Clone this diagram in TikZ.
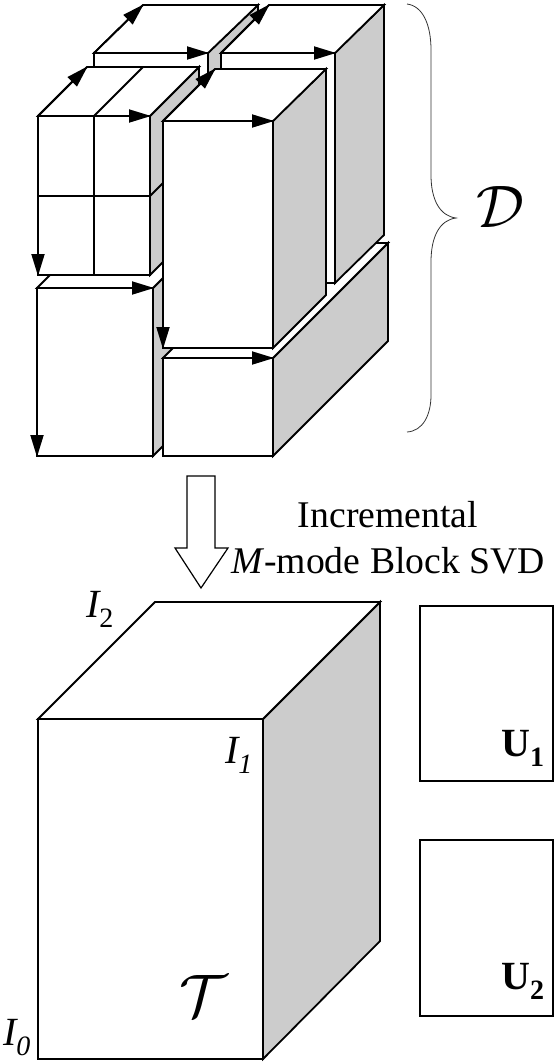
\documentclass[tikz,border=0pt]{standalone}
\usepackage{fontspec}
\setmainfont{Liberation Serif}
\usetikzlibrary{arrows.meta}
\definecolor{sidegray}{HTML}{CCCCCC}
\tikzstyle{face} = [draw=black, fill=white, line width=1.8pt, line join=miter]
\tikzstyle{side} = [draw=black, fill=sidegray, line width=1.8pt, line join=miter]
\tikzstyle{arrow} = [-{Triangle[length=22pt, width=13pt]}, line width=1.8pt, shorten >=-1pt]
\tikzstyle{brace} = [draw=black!80, line width=0.8pt]
\tikzstyle{hollow} = [draw=black, fill=white, line width=1.2pt, line join=miter]
\tikzstyle{matrixbox} = [face, outer sep=0pt, anchor=north west, minimum width=133pt]
\tikzstyle{caption} = [inner sep=0pt, align=center, font=\fontsize{37.7}{46}\selectfont]
\tikzstyle{modelabel} = [inner sep=0pt, font=\fontsize{40}{40}\selectfont\itshape]
\tikzstyle{basislabel} = [inner sep=0pt, font=\fontsize{40}{40}\selectfont\bfseries]
\tikzstyle{tensorlabel} = [inner sep=0pt]
\begin{document}
\begin{tikzpicture}[x=1pt, y=-1pt]
    \useasboundingbox (0,0) rectangle (557,1063);

    % lower left block
    \draw[side] (153,288) -- (201,240) -- (201,408) -- (153,456) -- cycle;
    \draw[face] (37,288) -- (85,240) -- (201,240) -- (153,288) -- cycle;
    \draw[face] (37,288) rectangle (153,456);
    \draw[arrow] (37,288) -- (153,288);
    \draw[arrow] (37,288) -- (37,456);

    % lower right block
    \draw[side] (273,358) -- (388,243) -- (388,341) -- (273,456) -- cycle;
    \draw[face] (163,358) -- (278,243) -- (388,243) -- (273,358) -- cycle;
    \draw[face] (163,358) rectangle (273,456);
    \draw[arrow] (163,358) -- (273,358);

    % back left block
    \draw[side] (208,53) -- (258,5) -- (258,130) -- (208,178) -- cycle;
    \draw[face] (94,53) -- (143,5) -- (258,5) -- (208,53) -- cycle;
    \draw[face] (94,53) rectangle (208,178);
    \draw[arrow] (94,53) -- (143,5);
    \draw[arrow] (94,53) -- (208,53);

    % back right block
    \draw[side] (335,53) -- (384,5) -- (384,235) -- (335,283) -- cycle;
    \draw[face] (221,53) -- (269,5) -- (384,5) -- (335,53) -- cycle;
    \draw[face] (221,53) rectangle (335,283);
    \draw[arrow] (221,53) -- (269,5);
    \draw[arrow] (221,53) -- (335,53);

    % split block
    \draw[side] (150,116) -- (199,67) -- (199,226) -- (150,275) -- cycle;
    \draw[side] (150,196) -- (199,147);
    \draw[face] (38,116) -- (87,67) -- (199,67) -- (150,116) -- cycle;
    \draw[face] (94,116) -- (143,67);
    \draw[face] (38,116) rectangle (150,275);
    \draw[face] (94,116) -- (94,275);
    \draw[face] (38,196) -- (150,196);
    \draw[arrow] (38,116) -- (87,67);
    \draw[arrow] (94,116) -- (150,116);
    \draw[arrow] (38,116) -- (38,275);

    % centre block
    \draw[side] (273,121) -- (326,69) -- (326,295) -- (273,348) -- cycle;
    \draw[face] (163,121) -- (215,69) -- (326,69) -- (273,121) -- cycle;
    \draw[face] (163,121) rectangle (273,348);
    \draw[arrow] (163,121) -- (215,69);
    \draw[arrow] (163,121) -- (273,121);
    \draw[arrow] (163,121) -- (163,348);

    % brace
    \draw[brace] (407,4) .. controls (423,6) and (431,25) .. (431,50) -- (431,175)
        .. controls (431,200) and (440,216) .. (456,218)
        .. controls (440,220) and (431,236) .. (431,262) -- (431,395)
        .. controls (431,415) and (423,431) .. (407,432);
    \node (data) [tensorlabel] at (500,207) {\scalebox{6}{$\mathcal{D}$}};

    % update arrow
    \draw[hollow] (187,476) -- (215,476) -- (215,548) -- (228,548) -- (201,588)
        -- (175,548) -- (187,548) -- cycle;
    \node (svd) [caption] at (388,538) {Incremental\\\textit{M}-mode Block SVD};

    % core tensor
    \draw[side] (263,719) -- (380,602) -- (380,941) -- (263,1059) -- cycle;
    \draw[face] (38,719) -- (155,602) -- (380,602) -- (263,719) -- cycle;
    \draw[face] (38,719) rectangle (263,1059);
    \node (core) [tensorlabel] at (203,996) {\scalebox{6}{$\mathcal{T}$}};
    \node (i2) [modelabel] at (100,609) {I\textsubscript{\upshape 2}};
    \node (i1) [modelabel] at (239,755) {I\textsubscript{1}};
    \node (i0) [modelabel] at (17,1038) {I\textsubscript{0}};

    % basis matrices
    \node (u1box) [matrixbox, minimum height=175pt] at (420,606) {};
    \node (u2box) [matrixbox, minimum height=176pt] at (420,840) {};
    \node (u1) [basislabel] at (523,748) {U\textsubscript{1}};
    \node (u2) [basislabel] at (523,981) {U\textsubscript{2}};
\end{tikzpicture}
\end{document}
